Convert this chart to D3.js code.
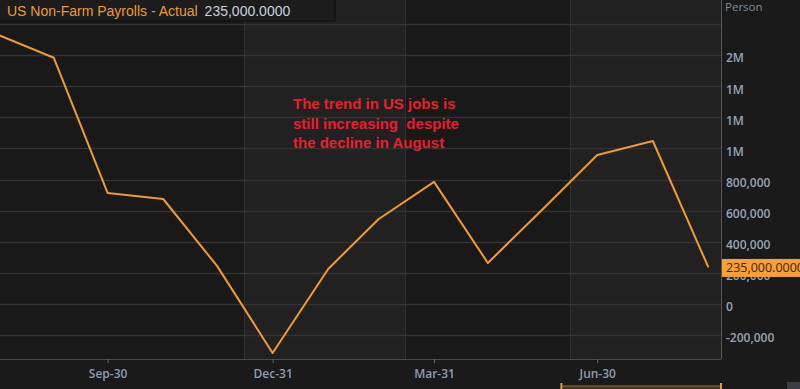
<!DOCTYPE html>
<html>
<head>
<meta charset="utf-8">
<script src="https://cdn.jsdelivr.net/npm/d3@7/dist/d3.min.js"></script>
<style>
  html, body { margin: 0; padding: 0; background: #1a1a1a; }
  svg { display: block; }
</style>
</head>
<body>
<svg id="chart" width="800" height="389"></svg>
<script>
// ---- data ----
const dates = ["2020-07-31","2020-08-31","2020-09-30","2020-10-31","2020-11-30","2020-12-31",
               "2021-01-31","2021-02-28","2021-03-31","2021-04-30","2021-05-31","2021-06-30",
               "2021-07-31","2021-08-31"];
const payrolls = [1730000, 1583000, 714000, 675000, 245000, -315000,
                  225000, 545000, 785000, 264000, 614000, 958000, 1048000, 235000];
const xTickDates = ["2020-09-30","2020-12-31","2021-03-31","2021-06-30"];
const xTickLabels = ["Sep-30","Dec-31","Mar-31","Jun-30"];
const yTickValues = [-200000, 0, 200000, 400000, 600000, 800000, 1000000, 1200000, 1400000, 1600000, 1800000];
const yTickLabels = ["-200,000","0","200,000","400,000","600,000","800,000","1M","1M","1M","2M",""];
const bandEdges = ["2020-08-01","2020-12-15","2021-03-15","2021-06-15","2021-09-07"];
const seriesName = "US Non-Farm Payrolls - Actual";
const lastValueText = "235,000.0000";
const annotationLines = ["The trend in US jobs is", "still increasing  despite", "the decline in August"];
const unitLabel = "Person";

// ---- layout ----
const W = 800, H = 389;
const plotLeft = 0, plotRight = 721, plotTop = 0, plotBottom = 359;
const parse = d3.timeParse("%Y-%m-%d");
const AX_FONT = "Open Sans, DejaVu Sans, sans-serif";
const ARIAL = "Liberation Sans, Arial, sans-serif";

const svg = d3.select("#chart");
svg.append("rect").attr("width", W).attr("height", H).attr("fill", "#1a1a1a");

const x = d3.scaleTime()
  .domain([parse("2020-08-01"), parse("2021-09-07")])
  .range([plotLeft, plotRight]);
const y = d3.scaleLinear()
  .domain([0, 1800000])
  .range([304, 24]);

// clip
svg.append("defs").append("clipPath").attr("id", "clip")
  .append("rect").attr("x", plotLeft).attr("y", plotTop)
  .attr("width", plotRight - plotLeft).attr("height", plotBottom - plotTop);

// bands
const bandG = svg.append("g");
for (let i = 0; i < bandEdges.length - 1; i++) {
  const a = x(parse(bandEdges[i])), b = x(parse(bandEdges[i + 1]));
  bandG.append("rect")
    .attr("x", a).attr("y", plotTop)
    .attr("width", b - a).attr("height", plotBottom - plotTop)
    .attr("fill", i % 2 === 0 ? "#191919" : "#212121");
  if (i > 0) {
    bandG.append("line")
      .attr("x1", Math.round(a) + 0.5).attr("x2", Math.round(a) + 0.5)
      .attr("y1", plotTop).attr("y2", plotBottom)
      .attr("stroke", "#303030").attr("stroke-width", 1);
  }
}

// horizontal gridlines
svg.append("g").selectAll("line").data(yTickValues).join("line")
  .attr("x1", plotLeft).attr("x2", plotRight)
  .attr("y1", d => Math.round(y(d)) + 0.5).attr("y2", d => Math.round(y(d)) + 0.5)
  .attr("stroke", "#333333").attr("stroke-width", 1.5);

// header box
svg.append("rect")
  .attr("x", -1).attr("y", -1).attr("width", 336).attr("height", 22)
  .attr("fill", "#1c1c1c").attr("stroke", "#0f0f0f").attr("stroke-width", 1.2);
const hdr = svg.append("text").attr("x", 7).attr("y", 16)
  .attr("font-family", ARIAL).attr("font-size", 14);
hdr.append("tspan").attr("fill", "#ef9b2c").text(seriesName);
hdr.append("tspan").attr("fill", "#c9d1de").attr("dx", 7).text(lastValueText);

// line
const line = d3.line()
  .x((d, i) => x(parse(dates[i])))
  .y(d => y(d));
svg.append("path")
  .datum(payrolls)
  .attr("clip-path", "url(#clip)")
  .attr("fill", "none")
  .attr("stroke", "#f29a2a")
  .attr("stroke-width", 2)
  .attr("stroke-linejoin", "round")
  .attr("d", line);

// annotation
const ann = svg.append("text")
  .attr("font-family", ARIAL)
  .attr("font-weight", "bold").attr("font-size", 15)
  .attr("fill", "#e81f2a")
  .style("white-space", "pre");
annotationLines.forEach((t, i) => {
  ann.append("tspan").attr("x", 293).attr("y", 109 + i * 19.5).text(t);
});

// right axis line
svg.append("line")
  .attr("x1", plotRight + 0.5).attr("x2", plotRight + 0.5)
  .attr("y1", 0).attr("y2", plotBottom)
  .attr("stroke", "#555555").attr("stroke-width", 1);

// bottom axis
const xAxis = d3.axisBottom(x)
  .tickValues(xTickDates.map(parse))
  .tickFormat((d, i) => xTickLabels[i])
  .tickSize(4).tickSizeOuter(0).tickPadding(6);
const gx = svg.append("g").attr("transform", `translate(0,${plotBottom})`).call(xAxis);
gx.select(".domain").attr("stroke", "#4a4a4a").attr("d", `M${plotLeft},0.5H${plotRight}`);
gx.selectAll(".tick line").attr("stroke", "#666");
gx.selectAll(".tick text")
  .attr("fill", "#8e9db0").attr("font-size", 12).attr("font-weight", 600)
  .attr("font-family", AX_FONT);

// right axis labels
const yAxis = d3.axisRight(y)
  .tickValues(yTickValues)
  .tickFormat((d, i) => yTickLabels[i])
  .tickSize(0).tickPadding(5);
const gy = svg.append("g").attr("transform", `translate(${plotRight},3)`).call(yAxis);
gy.select(".domain").remove();
gy.selectAll(".tick text")
  .attr("fill", "#98a4b4").attr("font-size", 12).attr("font-weight", 600)
  .attr("font-family", AX_FONT);

svg.append("text").attr("x", 725).attr("y", 11)
  .attr("fill", "#7e8a98").attr("font-size", 11.5)
  .attr("font-family", AX_FONT).text(unitLabel);

// last value tag
const lastV = payrolls[payrolls.length - 1];
const ty = y(lastV);
svg.append("rect")
  .attr("x", plotRight + 1).attr("y", ty - 8.5)
  .attr("width", W - plotRight).attr("height", 18)
  .attr("fill", "#f7a033");
svg.append("text").attr("x", 726).attr("y", ty + 5)
  .attr("fill", "#3a2608").attr("font-size", 12.5)
  .attr("font-family", AX_FONT).text(lastValueText);

// bottom navigator bracket
const navA = x(parse("2021-06-10")), navB = plotRight;
svg.append("rect").attr("x", navA).attr("y", 386).attr("width", navB - navA).attr("height", 4)
  .attr("fill", "#4a3418");
svg.append("line").attr("x1", navA).attr("x2", navB).attr("y1", 386).attr("y2", 386)
  .attr("stroke", "#7a5320").attr("stroke-width", 1.5);
[navA, navB].forEach(px => {
  svg.append("line").attr("x1", px).attr("x2", px).attr("y1", 383).attr("y2", 389)
    .attr("stroke", "#e89a35").attr("stroke-width", 2);
});
svg.append("rect").attr("x", 787).attr("y", 382).attr("width", 13).attr("height", 7)
  .attr("fill", "#3a3d44");
</script>
</body>
</html>
